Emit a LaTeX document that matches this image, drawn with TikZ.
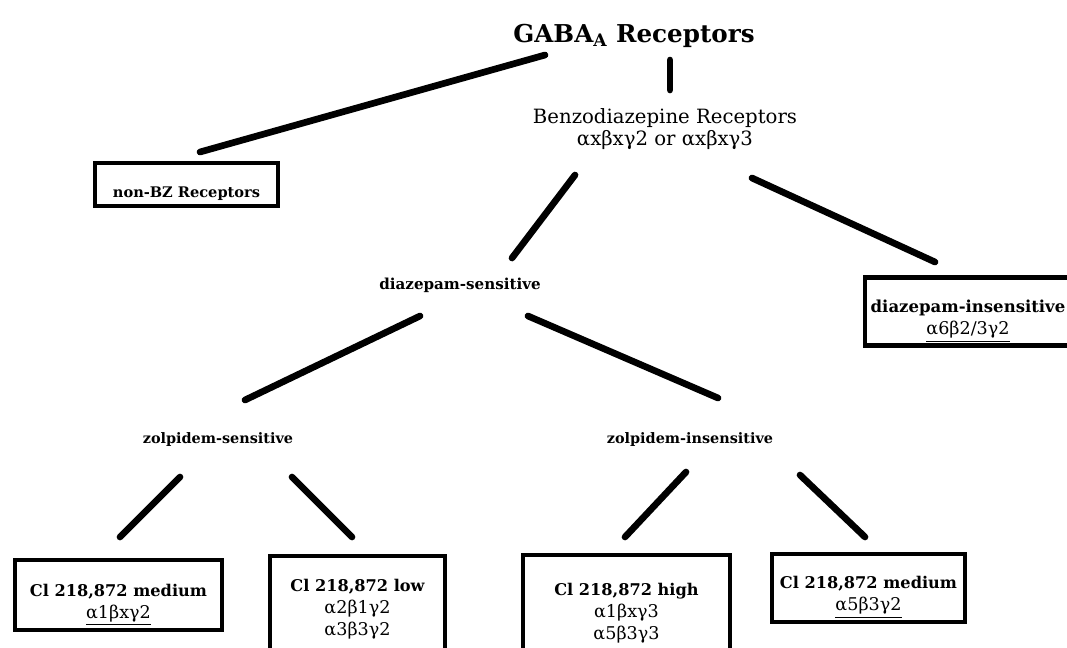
\documentclass[tikz,border=0pt]{standalone}
\usepackage{fontspec}
\setmainfont{DejaVu Serif}
\usepackage{tikz}

\newcommand{\topgap}[1]{\rule{0pt}{#1}}
\newcommand{\gk}{\mdseries\fontsize{10}{12.6}\selectfont}

\begin{document}
\begin{tikzpicture}[x=0.02cm, y=-0.02cm,
    box/.style={draw, line width=2.3pt, align=center, inner sep=2pt,
                font=\bfseries\fontsize{9.2}{12.6}\selectfont},
    lbl/.style={align=center, font=\bfseries\fontsize{8.6}{11}\selectfont},
    link/.style={line width=3.8pt, line cap=round},
  ]
    \useasboundingbox (0,0) rectangle (1067,647);
    % top of the tree
    \node[font=\bfseries\fontsize{14}{17}\selectfont] (gaba) at (634,36) {GABA\textsubscript{A} Receptors};
    \node[align=center, font=\fontsize{11.2}{12.6}\selectfont] (bzr) at (665,129)
        {Benzodiazepine Receptors\\ αxβxγ2 or αxβxγ3};
    \node[box, font=\bfseries\fontsize{8.3}{11}\selectfont, minimum width=3.66cm, minimum height=0.86cm] (nonbz) at (186.5,184.5)
        {\topgap{16pt}non-BZ Receptors};
    % diazepam level
    \node[lbl] (dzs) at (460,285) {diazepam-sensitive};
    \node[box, font=\bfseries\fontsize{9.4}{12.6}\selectfont, minimum width=4.12cm, minimum height=1.34cm] (dzi) at (968,311.5)
        {\topgap{18pt}diazepam-insensitive\\ \gk\underline{α6β2/3γ2}};
    % zolpidem level
    \node[lbl, font=\bfseries\fontsize{8.2}{11}\selectfont] (zps) at (218,440) {zolpidem-sensitive};
    \node[lbl, font=\bfseries\fontsize{8.2}{11}\selectfont] (zpi) at (690,440) {zolpidem-insensitive};
    % Cl 218,872 boxes
    \node[box, minimum width=4.14cm, minimum height=1.40cm] (clmed) at (118.5,595)
        {\topgap{18pt}Cl 218,872 medium\\ \gk\underline{α1βxγ2}};
    \node[box, minimum width=3.50cm, minimum height=2.12cm] (cllow) at (357.5,609)
        {Cl 218,872 low\\ \gk α2β1γ2\\ \gk α3β3γ2};
    \node[box, minimum width=4.14cm, minimum height=2.20cm] (clhigh) at (626.5,610)
        {\topgap{11pt}Cl 218,872 high\\ \gk α1βxγ3\\ \gk α5β3γ3};
    \node[box, minimum width=3.86cm, minimum height=1.36cm] (clmed5) at (868.5,588)
        {\topgap{17.5pt}Cl 218,872 medium\\ \gk\underline{α5β3γ2}};

    \draw[link] ([shift={(-89,19)}]gaba.center) -- ([shift={(13.5,-32.5)}]nonbz.center);
    \draw[link] ([shift={(36,24)}]gaba.center) -- ([shift={(5,-39)}]bzr.center);
    \draw[link] ([shift={(-90,46)}]bzr.center) -- ([shift={(52,-27)}]dzs.center);
    \draw[link] ([shift={(87,49)}]bzr.center) -- ([shift={(-33,-49.5)}]dzi.center);
    \draw[link] ([shift={(-40,31)}]dzs.center) -- ([shift={(27,-40)}]zps.center);
    \draw[link] ([shift={(68,31)}]dzs.center) -- ([shift={(28,-42)}]zpi.center);
    \draw[link] ([shift={(-38,37)}]zps.center) -- ([shift={(1.5,-58)}]clmed.center);
    \draw[link] ([shift={(74,37)}]zps.center) -- ([shift={(-5.5,-72)}]cllow.center);
    \draw[link] ([shift={(-4,32)}]zpi.center) -- ([shift={(-1.5,-73)}]clhigh.center);
    \draw[link] ([shift={(110,35)}]zpi.center) -- ([shift={(-3.5,-51)}]clmed5.center);
\end{tikzpicture}
\end{document}
